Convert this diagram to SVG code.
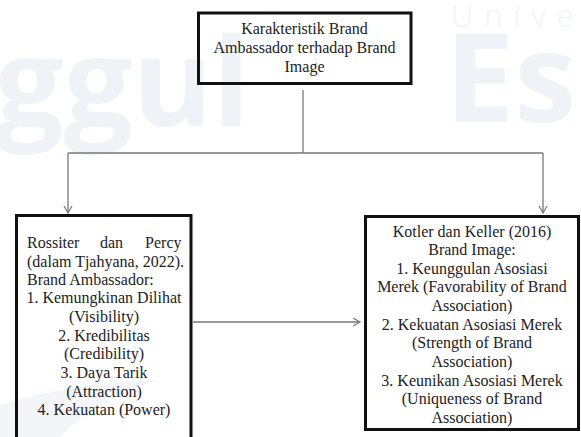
<svg xmlns="http://www.w3.org/2000/svg" width="581" height="437" viewBox="0 0 581 437">
<defs>
<style>
.wm{fill:#eff3f8;font-family:"Open Sans","DejaVu Sans",sans-serif;font-weight:700}
.wmt{fill:#f0f3f8;font-family:"Open Sans","DejaVu Sans",sans-serif;font-weight:300}
.box{fill:none;stroke:#111;stroke-width:3}
.t{font-family:"Liberation Serif","Times New Roman",serif;font-size:16px;fill:#222}
.c{text-anchor:middle}
.conn{fill:none;stroke:#777;stroke-width:1.3}
</style>
<marker id="arr" markerWidth="10" markerHeight="10" refX="8" refY="4.5" orient="auto" markerUnits="userSpaceOnUse">
<path d="M1,0.5 L8,4.5 L1,8.5" fill="none" stroke="#777" stroke-width="1.2"/>
</marker>
</defs>
<rect width="581" height="437" fill="#fff"/>
<g id="watermark">
<text class="wm" x="250" y="126" font-size="122" text-anchor="end">ggul</text>
<text class="wm" x="445" y="122" font-size="124">Es</text>
<text class="wmt" x="451" y="27" font-size="31" letter-spacing="11">Unive</text>
<path d="M0,437 L0,405 Q60,385 160,380 Q100,395 60,437 Z" fill="#f3f5f9"/>
</g>
<g id="connectors">
<line class="conn" x1="303" y1="90" x2="303" y2="153"/>
<line class="conn" x1="68" y1="153" x2="543" y2="153"/>
<line class="conn" x1="68" y1="153" x2="68" y2="213" marker-end="url(#arr)"/>
<line class="conn" x1="543" y1="153" x2="543" y2="213" marker-end="url(#arr)"/>
<line class="conn" x1="193" y1="322" x2="360" y2="322" marker-end="url(#arr)"/>
</g>
<g id="node-top">
<rect class="box" x="198.5" y="13" width="212.5" height="70.5"/>
<text class="t c" x="304.5" y="34">Karakteristik Brand</text>
<text class="t c" x="304.5" y="53">Ambassador terhadap Brand</text>
<text class="t c" x="304.5" y="72">Image</text>
</g>
<g id="node-left">
<rect class="box" x="16.5" y="215.5" width="174.5" height="240"/>
<text class="t" x="27" y="248">Rossiter</text>
<text class="t c" x="111.5" y="248">dan</text>
<text class="t" x="181.5" y="248" text-anchor="end">Percy</text>
<text class="t" x="27" y="267">(dalam Tjahyana, 2022).</text>
<text class="t" x="27" y="285">Brand Ambassador:</text>
<text class="t c" x="104" y="303">1. Kemungkinan Dilihat</text>
<text class="t c" x="104" y="322">(Visibility)</text>
<text class="t c" x="104" y="341">2. Kredibilitas</text>
<text class="t c" x="104" y="359">(Credibility)</text>
<text class="t c" x="104" y="378">3. Daya Tarik</text>
<text class="t c" x="104" y="397">(Attraction)</text>
<text class="t c" x="104" y="415">4. Kekuatan (Power)</text>
</g>
<g id="node-right">
<rect class="box" x="365.5" y="216.5" width="213" height="213"/>
<text class="t c" x="472" y="237">Kotler dan Keller (2016)</text>
<text class="t c" x="472" y="255">Brand Image:</text>
<text class="t c" x="472" y="274">1. Keunggulan Asosiasi</text>
<text class="t c" x="472" y="292">Merek (Favorability of Brand</text>
<text class="t c" x="472" y="311">Association)</text>
<text class="t c" x="472" y="330">2. Kekuatan Asosiasi Merek</text>
<text class="t c" x="472" y="348">(Strength of Brand</text>
<text class="t c" x="472" y="367">Association)</text>
<text class="t c" x="472" y="386">3. Keunikan Asosiasi Merek</text>
<text class="t c" x="472" y="404">(Uniqueness of Brand</text>
<text class="t c" x="472" y="423">Association)</text>
</g>
</svg>
